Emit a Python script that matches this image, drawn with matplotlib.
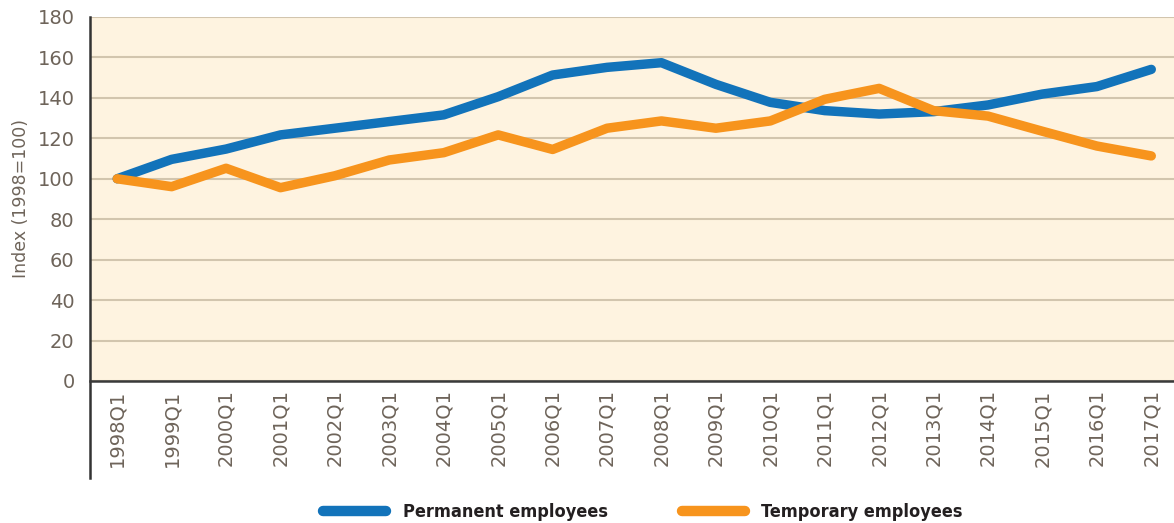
import matplotlib
matplotlib.use('Agg')
import matplotlib.pyplot as plt
from matplotlib.lines import Line2D

# ========== data ==========
quarters = ['1998Q1', '1999Q1', '2000Q1', '2001Q1', '2002Q1', '2003Q1', '2004Q1',
            '2005Q1', '2006Q1', '2007Q1', '2008Q1', '2009Q1', '2010Q1', '2011Q1',
            '2012Q1', '2013Q1', '2014Q1', '2015Q1', '2016Q1', '2017Q1']
permanent = [100, 109.6, 114.7, 121.7, 125.0, 128.3, 131.6, 140.6, 151.3, 155.1,
             157.4, 146.7, 137.8, 133.7, 132.0, 133.2, 136.5, 141.9, 145.6, 154.1]
temporary = [100, 96.1, 105.2, 95.6, 101.5, 109.3, 112.9, 121.7, 114.5, 125.0,
             128.6, 125.0, 128.6, 139.3, 144.7, 133.7, 131.0, 123.5, 116.2, 111.3]
yticks = [0, 20, 40, 60, 80, 100, 120, 140, 160, 180]

BLUE = '#1273ba'
ORANGE = '#f7941d'
TXT = '#6e645a'

fig = plt.figure(figsize=(11.74, 5.23), dpi=100)
ax = fig.add_axes([90 / 1174, 1 - 381 / 523, 1088.5 / 1174, 364 / 523])
ax.set_facecolor('#fef3e0')

x = list(range(len(quarters)))
ax.plot(x, permanent, color=BLUE, lw=6.8, solid_capstyle='round', zorder=3)
ax.plot(x, temporary, color=ORANGE, lw=6.8, solid_capstyle='round', zorder=4)

ax.set_xlim(-0.5, len(quarters) - 0.5)
ax.set_ylim(0, 180)
ax.set_yticks(yticks)
ax.set_yticklabels([str(v) for v in yticks], fontsize=14, color=TXT)
ax.set_xticks(x)
ax.set_xticklabels(quarters, rotation=90, fontsize=14, color=TXT)
ax.tick_params(axis='y', length=0, pad=11)
ax.tick_params(axis='x', length=0, pad=6)

ax.grid(axis='y', color='#d2c5ae', lw=1.5)
ax.set_axisbelow(True)

for s in ['top', 'right', 'left']:
    ax.spines[s].set_visible(False)
ax.spines['bottom'].set_color('#3a3a3a')
ax.spines['bottom'].set_linewidth(1.8)
ax.spines['bottom'].set_zorder(5)
# left axis line runs down past the tick labels
ax.plot([0, 0], [-97 / 364, 1], transform=ax.transAxes, color='#333333',
        lw=1.8, clip_on=False, zorder=5)

ax.set_ylabel('Index (1998=100)', fontsize=12.5, color=TXT)
ax.yaxis.set_label_coords(-60 / 1088.5, 0.5)

handles = [Line2D([], [], color=BLUE, lw=7.5, solid_capstyle='round'),
           Line2D([], [], color=ORANGE, lw=7.5, solid_capstyle='round')]
fig.legend(handles, ['Permanent employees', 'Temporary employees'],
           loc='center', bbox_to_anchor=(643 / 1174, 1 - 512 / 523), ncol=2,
           frameon=False, handlelength=3.5, handletextpad=0.9, columnspacing=4.1,
           prop={'family': ['DejaVu Sans'], 'stretch': 'condensed',
                 'weight': 'bold', 'size': 13},
           labelcolor='#231f20')

fig.savefig('out.png', dpi=100)
